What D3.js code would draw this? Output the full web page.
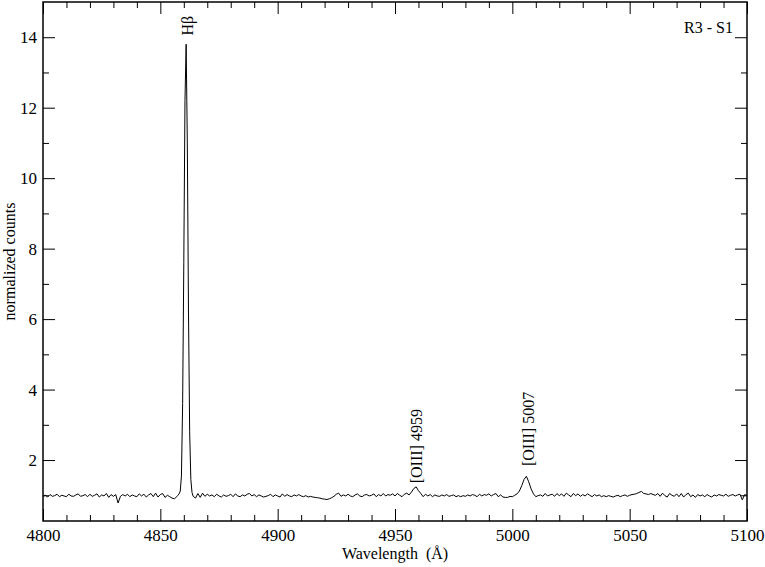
<!DOCTYPE html>
<html>
<head>
<meta charset="utf-8">
<script src="https://cdn.jsdelivr.net/npm/d3@7/dist/d3.min.js"></script>
<style>
  html, body { margin: 0; padding: 0; background: #fff; }
  svg { display: block; }
  text { font-family: "Liberation Serif", "Times New Roman", serif; fill: #000; }
</style>
</head>
<body>
<svg id="chart" width="765" height="567"></svg>
<script>
// ---------- data ----------
// continuum segment A: 4800..4857 Å, 1 Å sampling
const segAStart = 4800;
const segAFlux = [
  0.97,1.00,0.95,1.02,0.97,0.99,1.03,0.96,1.00,0.98,
  0.96,1.03,0.98,0.97,1.01,1.04,0.97,0.99,1.02,0.96,
  1.03,0.97,1.00,1.04,0.95,1.01,0.98,1.05,0.94,1.02,
  0.97,1.02,0.78,0.97,1.02,0.98,1.03,0.96,1.01,0.98,
  0.96,1.04,0.98,1.03,0.95,1.01,1.05,0.96,1.06,0.95,
  1.02,1.05,0.94,1.00,0.96,0.92,0.90,0.96
];
// H-beta core, 0.5 Å sampling
const hbWave = [4857.5,4858,4858.5,4859,4859.5,4860,4860.5,4861,4861.5,4862,4862.5,4863,4863.5,4864];
const hbFlux = [1.00,1.04,1.12,1.55,3.6,7.6,12.2,13.8,11.0,6.2,2.8,1.45,1.08,0.97];
// continuum segment B: 4865..5100 Å, 1 Å sampling
const segBStart = 4865;
const segBFlux = [
  0.92,1.05,0.94,1.06,0.97,
  1.03,0.98,1.01,0.96,1.03,0.98,0.95,1.01,0.97,0.99,
  1.03,0.96,1.04,0.98,0.96,1.01,0.98,1.03,1.05,0.98,
  1.02,0.96,1.01,0.98,0.95,0.97,0.99,1.03,0.96,1.01,
  0.98,0.95,1.04,0.97,1.02,0.98,0.96,1.01,0.98,1.02,
  0.98,0.96,0.99,0.95,0.97,0.95,0.94,0.93,0.92,0.90,
  0.89,0.88,0.90,0.93,0.97,1.03,1.06,0.97,1.01,0.98,
  1.03,0.98,0.96,1.01,1.04,0.98,0.96,1.01,1.02,0.98,
  1.00,1.04,0.96,1.02,0.98,1.05,0.98,1.02,1.00,1.04,
  0.98,1.05,1.00,0.96,1.03,1.06,1.01,1.09,1.19,1.24,
  1.13,1.05,0.96,1.03,0.98,1.02,0.96,1.01,0.98,0.97,
  1.01,0.98,1.02,0.97,0.99,1.01,0.96,0.99,0.96,0.99,
  0.97,1.01,0.98,1.02,1.00,0.96,1.03,0.98,1.02,1.00,
  1.04,0.98,1.02,1.05,0.96,1.01,0.95,0.94,0.94,0.97,
  0.96,1.00,1.04,1.12,1.27,1.45,1.54,1.38,1.18,1.04,
  0.96,0.99,1.01,0.97,1.05,0.98,1.01,1.03,0.97,1.05,
  0.99,1.04,0.97,1.06,1.01,0.96,1.05,0.99,1.04,0.97,
  1.02,0.98,1.04,1.00,0.96,1.02,0.98,1.01,0.96,0.99,
  0.96,0.99,0.97,0.95,0.98,1.00,0.96,0.99,1.01,0.97,
  1.00,1.02,1.03,1.05,1.08,1.11,1.05,1.04,1.02,1.05,
  1.02,1.00,1.05,0.97,1.06,0.99,0.95,1.05,1.00,0.97,
  1.04,0.96,1.05,0.95,1.02,1.06,0.96,1.01,0.94,1.02,
  0.98,1.01,0.96,1.02,0.98,0.95,1.01,0.98,1.02,1.00,
  0.98,1.03,0.97,1.00,1.02,0.98,1.01,1.03,0.87,1.02,
  0.99
];
const xMajorTicks = [4800, 4850, 4900, 4950, 5000, 5050, 5100];
const yMajorTicks = [2, 4, 6, 8, 10, 12, 14];
const lineLabels = [
  { text: "Hβ", wave: 4861 },
  { text: "[OIII] 4959", wave: 4959 },
  { text: "[OIII] 5007", wave: 5007 }
];
const panelLabel = "R3 - S1";
const xTitle = "Wavelength  (Å)";
const yTitle = "normalized counts";

// ---------- assemble spectrum ----------
const spectrum = [];
segAFlux.forEach((f, i) => spectrum.push([segAStart + i, f]));
hbWave.forEach((w, i) => spectrum.push([w, hbFlux[i]]));
segBFlux.forEach((f, i) => spectrum.push([segBStart + i, f]));

// ---------- layout ----------
const L = 43, R = 747, T = 2, B = 521;
const svg = d3.select("#chart");
const x = d3.scaleLinear().domain([4800, 5100]).range([L, R]);
const y = d3.scaleLinear().domain([0.27, 15]).range([B, T]);

const xMinor = d3.range(4810, 5100, 10).filter(v => v % 50 !== 0);
const yMinor = [1, 3, 5, 7, 9, 11, 13];

function styleAxis(g) {
  g.select(".domain").remove();
  g.selectAll(".tick line").attr("stroke", "#000").attr("stroke-width", 1);
  g.selectAll(".tick text").attr("font-family", "Liberation Serif, Times New Roman, serif")
    .attr("font-size", 17).attr("fill", "#000");
}

// bottom axis
svg.append("g").attr("transform", `translate(0,${B})`)
  .call(d3.axisBottom(x).tickValues(xMajorTicks).tickSize(-12).tickPadding(8).tickFormat(d3.format("d")))
  .call(styleAxis);
svg.append("g").attr("transform", `translate(0,${B})`)
  .call(d3.axisBottom(x).tickValues(xMinor).tickSize(-6).tickFormat(""))
  .call(styleAxis);
// top axis
svg.append("g").attr("transform", `translate(0,${T})`)
  .call(d3.axisTop(x).tickValues(xMajorTicks).tickSize(-12).tickFormat(""))
  .call(styleAxis);
svg.append("g").attr("transform", `translate(0,${T})`)
  .call(d3.axisTop(x).tickValues(xMinor).tickSize(-6).tickFormat(""))
  .call(styleAxis);
// left axis
svg.append("g").attr("transform", `translate(${L},0)`)
  .call(d3.axisLeft(y).tickValues(yMajorTicks).tickSize(-12).tickPadding(6).tickFormat(d3.format("d")))
  .call(styleAxis);
svg.append("g").attr("transform", `translate(${L},0)`)
  .call(d3.axisLeft(y).tickValues(yMinor).tickSize(-6).tickFormat(""))
  .call(styleAxis);
// right axis
svg.append("g").attr("transform", `translate(${R},0)`)
  .call(d3.axisRight(y).tickValues(yMajorTicks).tickSize(-12).tickFormat(""))
  .call(styleAxis);
svg.append("g").attr("transform", `translate(${R},0)`)
  .call(d3.axisRight(y).tickValues(yMinor).tickSize(-6).tickFormat(""))
  .call(styleAxis);

// frame
svg.append("rect").attr("x", L).attr("y", T).attr("width", R - L).attr("height", B - T)
  .attr("fill", "none").attr("stroke", "#000").attr("stroke-width", 1.5);

// spectrum
svg.append("path").datum(spectrum)
  .attr("fill", "none").attr("stroke", "#000").attr("stroke-width", 1)
  .attr("d", d3.line().x(d => x(d[0])).y(d => y(d[1])));

// line labels (rotated)
const labelOffsets = [ {dx: 7, yv: 14.05}, {dx: 6, yv: 1.34}, {dx: 5, yv: 1.83} ];
lineLabels.forEach((lb, i) => {
  const px = x(lb.wave) + labelOffsets[i].dx;
  const py = y(labelOffsets[i].yv);
  svg.append("text").attr("transform", `translate(${px},${py}) rotate(-90)`)
    .attr("font-size", 16).attr("text-anchor", "start").text(lb.text);
});

// panel label
svg.append("text").attr("x", 733).attr("y", 33).attr("text-anchor", "end")
  .attr("font-size", 16).text(panelLabel);

// axis titles
svg.append("text").attr("x", (L + R) / 2).attr("y", 559).attr("text-anchor", "middle")
  .attr("font-size", 16).style("white-space", "pre").text(xTitle);
svg.append("text").attr("transform", `translate(15,${(T + B) / 2}) rotate(-90)`)
  .attr("text-anchor", "middle").attr("font-size", 16).text(yTitle);
</script>
</body>
</html>
